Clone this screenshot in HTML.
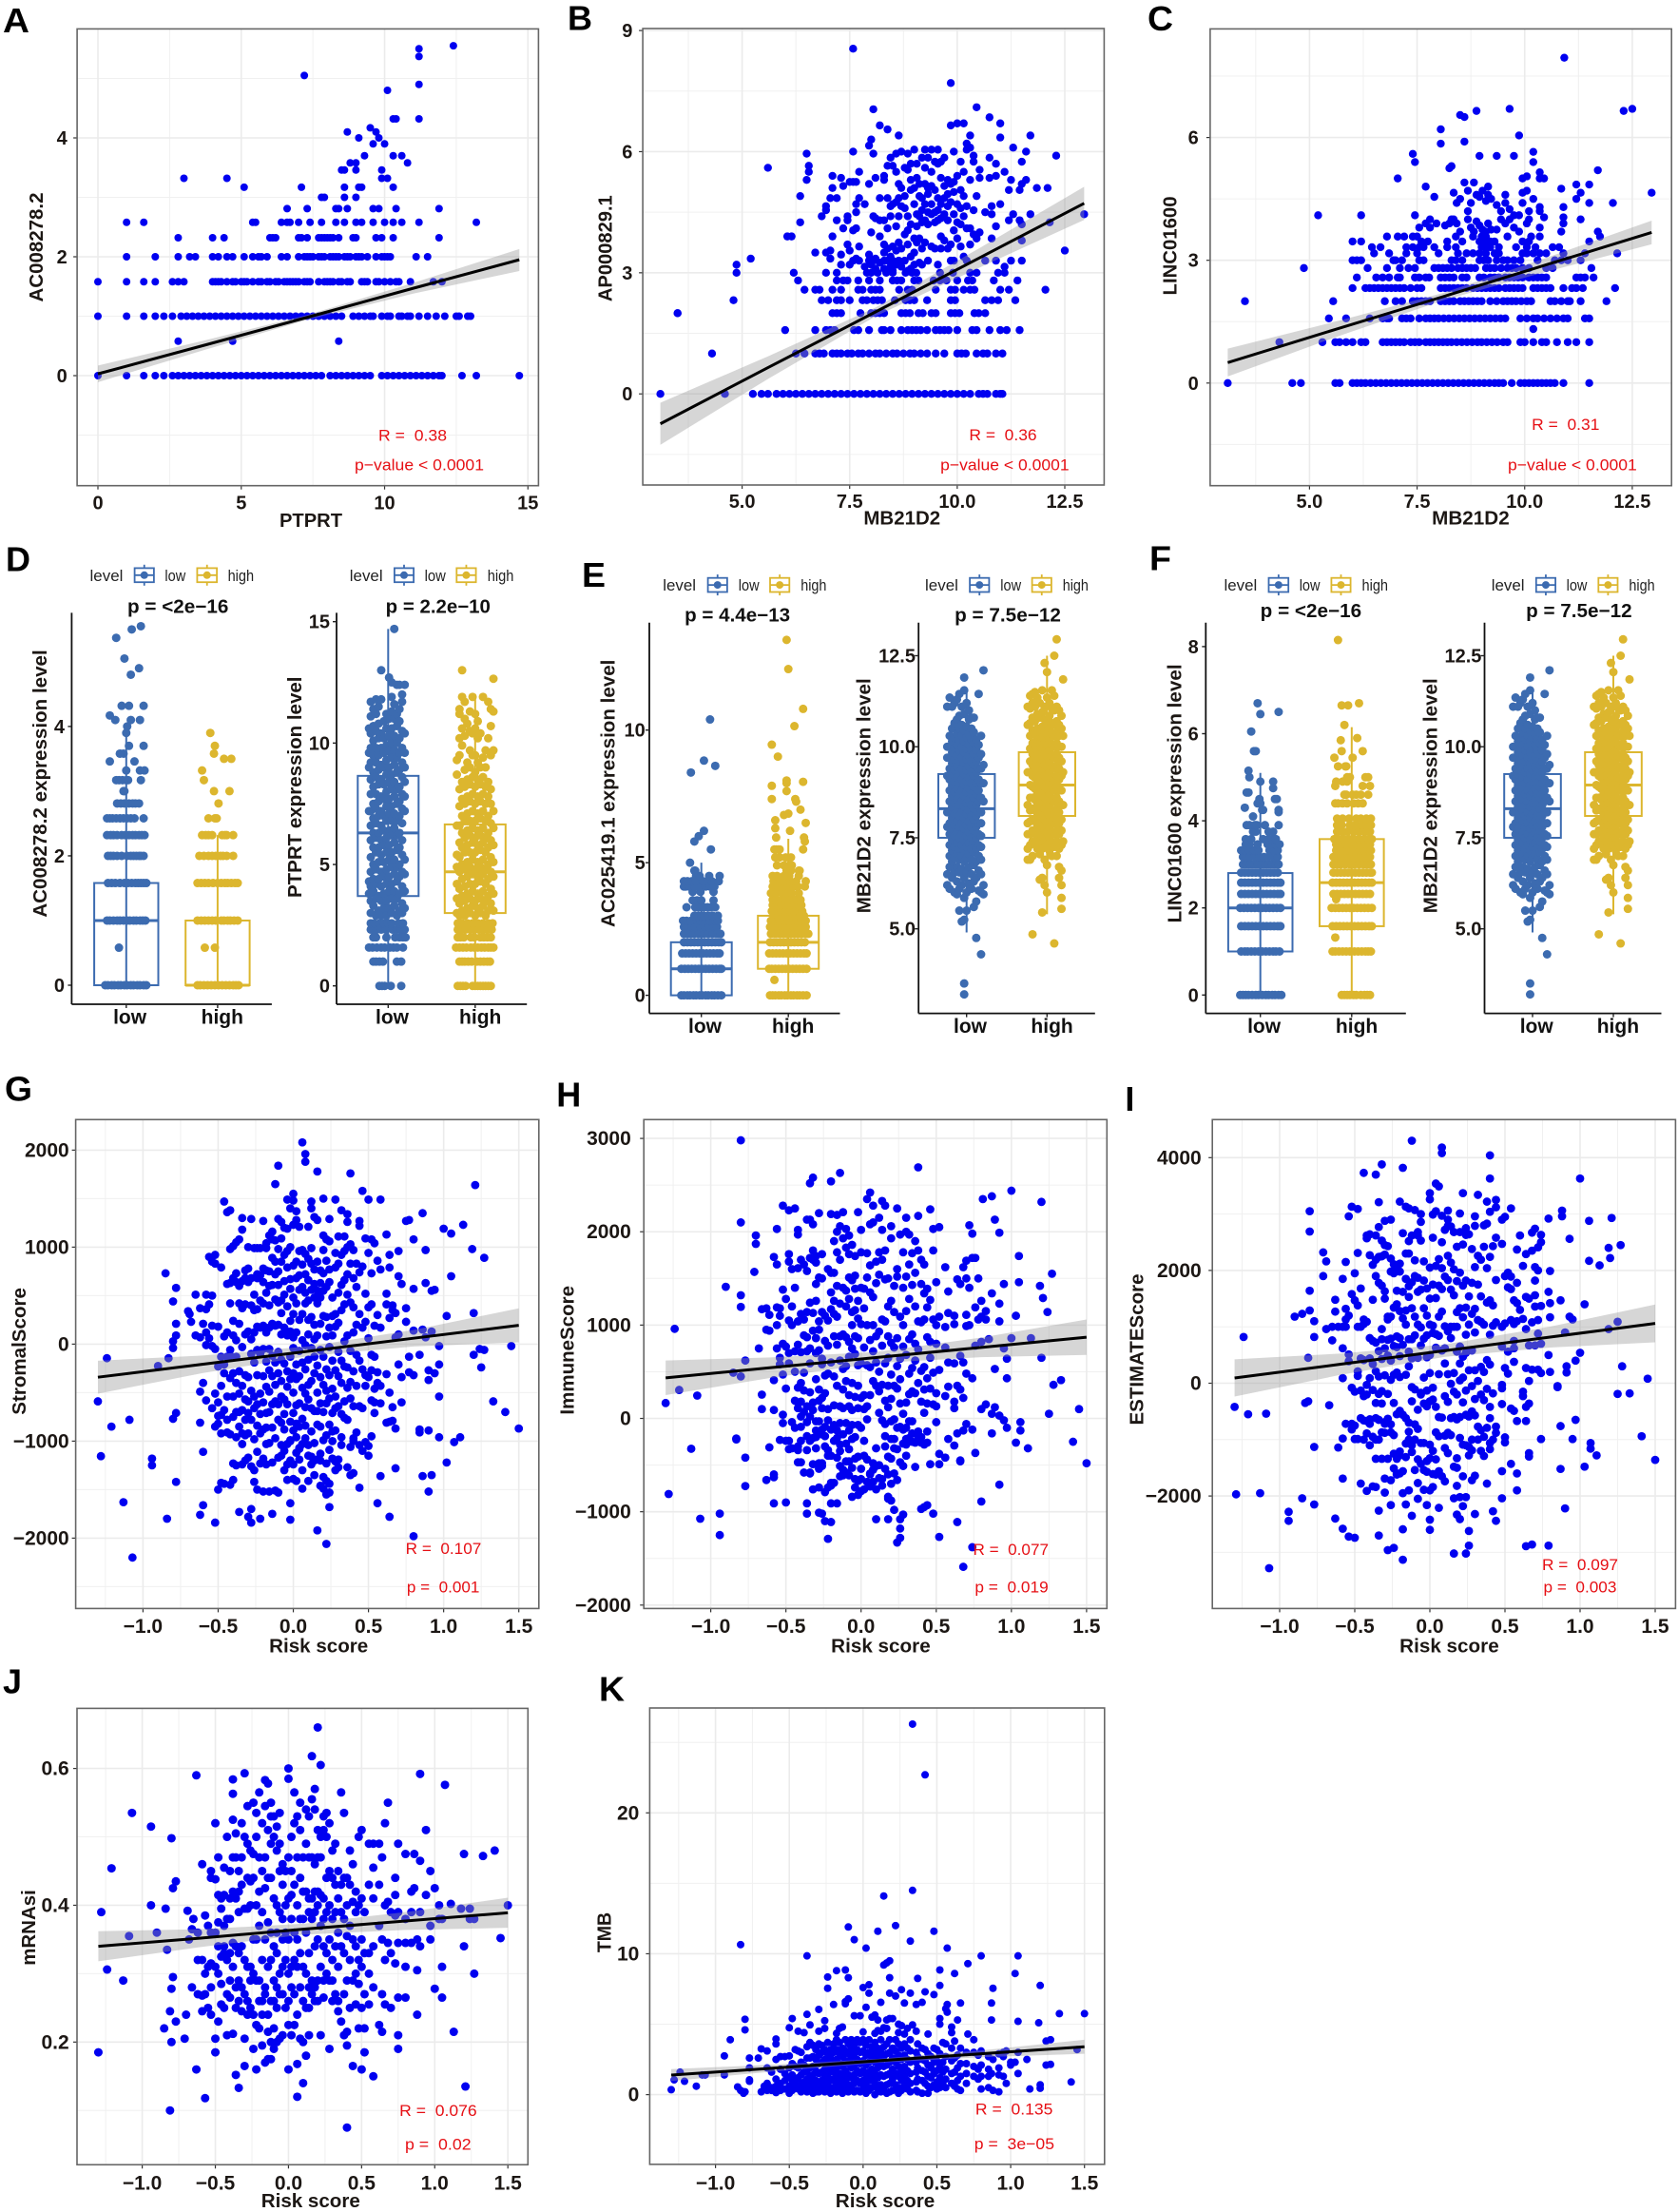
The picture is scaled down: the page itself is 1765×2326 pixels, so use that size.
<!DOCTYPE html>
<html lang="en">
<head>
<meta charset="utf-8">
<title>Correlation and expression panels A-K</title>
<style>
html,body{margin:0;padding:0;background:#fff}
svg{display:block}
text{font-family:"Liberation Sans",sans-serif}
.ltr{font-size:36px;font-weight:bold;fill:#000}
.at{font-size:20px;font-weight:bold;fill:#1c1714}
.ttl{font-size:20px;font-weight:bold;fill:#111}
.cat{font-size:21px;font-weight:bold;fill:#111;text-anchor:middle}
.rt{font-size:17px;fill:#e60f14}
.lg{font-size:17px;fill:#222}
</style>
</head>
<body>
<svg xmlns="http://www.w3.org/2000/svg" width="1765" height="2326" viewBox="0 0 1765 2326">
<rect width="1765" height="2326" fill="#fff"/>

<g>
<g id="a-marks"></g>
<text class="ltr" x="3" y="34" textLength="28" lengthAdjust="spacingAndGlyphs">A</text>
<text class="at" x="294" y="554" textLength="66" lengthAdjust="spacingAndGlyphs">PTPRT</text>
<text class="at" transform="translate(45 260) rotate(-90)" text-anchor="middle" textLength="115" lengthAdjust="spacingAndGlyphs">AC008278.2</text>
<text class="rt" x="398" y="463.5" textLength="72" lengthAdjust="spacingAndGlyphs" xml:space="preserve">R =  0.38</text>
<text class="rt" x="373" y="494.6" textLength="136" lengthAdjust="spacingAndGlyphs">p−value &lt; 0.0001</text>
</g>

<g>
<g id="b-marks"></g>
<text class="ltr" x="597" y="31.4" textLength="26" lengthAdjust="spacingAndGlyphs">B</text>
<text class="at" x="908.4" y="551.7" textLength="80.7" lengthAdjust="spacingAndGlyphs">MB21D2</text>
<text class="at" transform="translate(643.6 261.2) rotate(-90)" text-anchor="middle" textLength="111.8" lengthAdjust="spacingAndGlyphs">AP000829.1</text>
<text class="rt" x="1019.4" y="462.8" textLength="71.2" lengthAdjust="spacingAndGlyphs" xml:space="preserve">R =  0.36</text>
<text class="rt" x="989.2" y="494.6" textLength="135.4" lengthAdjust="spacingAndGlyphs">p−value &lt; 0.0001</text>
</g>

<g>
<g id="c-marks"></g>
<text class="ltr" x="1207" y="32" textLength="27" lengthAdjust="spacingAndGlyphs">C</text>
<text class="at" x="1506.2" y="551.7" textLength="81.5" lengthAdjust="spacingAndGlyphs">MB21D2</text>
<text class="at" transform="translate(1237.7 258.5) rotate(-90)" text-anchor="middle" textLength="104" lengthAdjust="spacingAndGlyphs">LINC01600</text>
<text class="rt" x="1611.2" y="452" textLength="71.2" lengthAdjust="spacingAndGlyphs" xml:space="preserve">R =  0.31</text>
<text class="rt" x="1586" y="494.6" textLength="135.8" lengthAdjust="spacingAndGlyphs">p−value &lt; 0.0001</text>
</g>

<g>
<text class="ltr" x="6" y="600.6" textLength="26" lengthAdjust="spacingAndGlyphs">D</text>
<g id="d1-marks"></g>
<text class="ttl" x="134" y="644.4" textLength="106.4" lengthAdjust="spacingAndGlyphs">p = &lt;2e−16</text>
<text class="at" transform="translate(49 824) rotate(-90)" text-anchor="middle" textLength="281.4" lengthAdjust="spacingAndGlyphs">AC008278.2 expression level</text>
<text class="cat" x="136.6" y="1076.6">low</text>
<text class="cat" x="233.8" y="1076.6">high</text>
<text class="lg" x="94.5" y="611" textLength="34.9" lengthAdjust="spacingAndGlyphs">level</text>
<text class="lg" x="173.4" y="611" textLength="21.8" lengthAdjust="spacingAndGlyphs">low</text>
<text class="lg" x="239.6" y="611" textLength="27.5" lengthAdjust="spacingAndGlyphs">high</text>
<g id="d2-marks"></g>
<text class="ttl" x="405.7" y="644.4" textLength="110.2" lengthAdjust="spacingAndGlyphs">p = 2.2e−10</text>
<text class="at" transform="translate(316.9 827.8) rotate(-90)" text-anchor="middle" textLength="232.5" lengthAdjust="spacingAndGlyphs">PTPRT expression level</text>
<text class="cat" x="412.5" y="1076.6">low</text>
<text class="cat" x="505.2" y="1076.6">high</text>
<text class="lg" x="367.8" y="611" textLength="34.8" lengthAdjust="spacingAndGlyphs">level</text>
<text class="lg" x="446.6" y="611" textLength="22.2" lengthAdjust="spacingAndGlyphs">low</text>
<text class="lg" x="512.8" y="611" textLength="27.6" lengthAdjust="spacingAndGlyphs">high</text>
</g>

<g>
<text class="ltr" x="612" y="616.8" textLength="25" lengthAdjust="spacingAndGlyphs">E</text>
<g id="e1-marks"></g>
<text class="ttl" x="720.1" y="653.7" textLength="111" lengthAdjust="spacingAndGlyphs">p = 4.4e−13</text>
<text class="at" transform="translate(646.6 834.3) rotate(-90)" text-anchor="middle" textLength="281.4" lengthAdjust="spacingAndGlyphs">AC025419.1 expression level</text>
<text class="cat" x="741.5" y="1086">low</text>
<text class="cat" x="834.2" y="1086">high</text>
<text class="lg" x="697.2" y="621" textLength="34.8" lengthAdjust="spacingAndGlyphs">level</text>
<text class="lg" x="776.8" y="621" textLength="21.8" lengthAdjust="spacingAndGlyphs">low</text>
<text class="lg" x="842.2" y="621" textLength="27.2" lengthAdjust="spacingAndGlyphs">high</text>
<g id="e2-marks"></g>
<text class="ttl" x="1004.1" y="653.7" textLength="111.8" lengthAdjust="spacingAndGlyphs">p = 7.5e−12</text>
<text class="at" transform="translate(915.3 836.8) rotate(-90)" text-anchor="middle" textLength="247" lengthAdjust="spacingAndGlyphs">MB21D2 expression level</text>
<text class="cat" x="1020.5" y="1086">low</text>
<text class="cat" x="1106.6" y="1086">high</text>
<text class="lg" x="973" y="621" textLength="34.9" lengthAdjust="spacingAndGlyphs">level</text>
<text class="lg" x="1052.3" y="621" textLength="21.8" lengthAdjust="spacingAndGlyphs">low</text>
<text class="lg" x="1117.7" y="621" textLength="27.2" lengthAdjust="spacingAndGlyphs">high</text>
</g>

<g>
<text class="ltr" x="1209" y="599.6" textLength="23" lengthAdjust="spacingAndGlyphs">F</text>
<g id="f1-marks"></g>
<text class="ttl" x="1325.7" y="648.9" textLength="106.4" lengthAdjust="spacingAndGlyphs">p = &lt;2e−16</text>
<text class="at" transform="translate(1242.7 834.4) rotate(-90)" text-anchor="middle" textLength="272" lengthAdjust="spacingAndGlyphs">LINC01600 expression level</text>
<text class="cat" x="1329.6" y="1086">low</text>
<text class="cat" x="1427.1" y="1086">high</text>
<text class="lg" x="1287.5" y="621" textLength="34.8" lengthAdjust="spacingAndGlyphs">level</text>
<text class="lg" x="1366.7" y="621" textLength="21.8" lengthAdjust="spacingAndGlyphs">low</text>
<text class="lg" x="1432.5" y="621" textLength="27.5" lengthAdjust="spacingAndGlyphs">high</text>
<g id="f2-marks"></g>
<text class="ttl" x="1605.1" y="648.9" textLength="111.5" lengthAdjust="spacingAndGlyphs">p = 7.5e−12</text>
<text class="at" transform="translate(1511.3 836.8) rotate(-90)" text-anchor="middle" textLength="247" lengthAdjust="spacingAndGlyphs">MB21D2 expression level</text>
<text class="cat" x="1616.2" y="1086">low</text>
<text class="cat" x="1701.9" y="1086">high</text>
<text class="lg" x="1568.7" y="621" textLength="34.9" lengthAdjust="spacingAndGlyphs">level</text>
<text class="lg" x="1647.6" y="621" textLength="21.8" lengthAdjust="spacingAndGlyphs">low</text>
<text class="lg" x="1713.4" y="621" textLength="27.2" lengthAdjust="spacingAndGlyphs">high</text>
</g>

<g>
<g id="g-marks"></g>
<text class="ltr" x="5" y="1157.6" textLength="29" lengthAdjust="spacingAndGlyphs">G</text>
<text class="at" x="283.2" y="1737.6" textLength="104" lengthAdjust="spacingAndGlyphs">Risk score</text>
<text class="at" transform="translate(26.8 1420.9) rotate(-90)" text-anchor="middle" textLength="133.7" lengthAdjust="spacingAndGlyphs">StromalScore</text>
<text class="rt" x="426.7" y="1634" textLength="79.6" lengthAdjust="spacingAndGlyphs" xml:space="preserve">R =  0.107</text>
<text class="rt" x="427.9" y="1674.3" textLength="76.5" lengthAdjust="spacingAndGlyphs" xml:space="preserve">p =  0.001</text>
</g>

<g>
<g id="h-marks"></g>
<text class="ltr" x="585.3" y="1163.5" textLength="26" lengthAdjust="spacingAndGlyphs">H</text>
<text class="at" x="874.2" y="1737.6" textLength="104.5" lengthAdjust="spacingAndGlyphs">Risk score</text>
<text class="at" transform="translate(603.7 1419.8) rotate(-90)" text-anchor="middle" textLength="135.6" lengthAdjust="spacingAndGlyphs">ImmuneScore</text>
<text class="rt" x="1023.5" y="1635.2" textLength="79.5" lengthAdjust="spacingAndGlyphs" xml:space="preserve">R =  0.077</text>
<text class="rt" x="1025.4" y="1674.3" textLength="77.3" lengthAdjust="spacingAndGlyphs" xml:space="preserve">p =  0.019</text>
</g>

<g>
<g id="i-marks"></g>
<text class="ltr" x="1183.4" y="1168">I</text>
<text class="at" x="1472.2" y="1737.6" textLength="104.5" lengthAdjust="spacingAndGlyphs">Risk score</text>
<text class="at" transform="translate(1202.5 1419) rotate(-90)" text-anchor="middle" textLength="159" lengthAdjust="spacingAndGlyphs">ESTIMATEScore</text>
<text class="rt" x="1622" y="1651" textLength="80" lengthAdjust="spacingAndGlyphs" xml:space="preserve">R =  0.097</text>
<text class="rt" x="1623.5" y="1674.7" textLength="76.9" lengthAdjust="spacingAndGlyphs" xml:space="preserve">p =  0.003</text>
</g>

<g>
<g id="j-marks"></g>
<text class="ltr" x="3" y="1780.4" textLength="20" lengthAdjust="spacingAndGlyphs">J</text>
<text class="at" x="274.8" y="2321" textLength="104" lengthAdjust="spacingAndGlyphs">Risk score</text>
<text class="at" transform="translate(37 2027) rotate(-90)" text-anchor="middle" textLength="79.6" lengthAdjust="spacingAndGlyphs">mRNAsi</text>
<text class="rt" x="420.2" y="2225" textLength="81.5" lengthAdjust="spacingAndGlyphs" xml:space="preserve">R =  0.076</text>
<text class="rt" x="426" y="2260.6" textLength="69.6" lengthAdjust="spacingAndGlyphs" xml:space="preserve">p =  0.02</text>
</g>

<g>
<g id="k-marks"></g>
<text class="ltr" x="630" y="1788.6" textLength="27" lengthAdjust="spacingAndGlyphs">K</text>
<text class="at" x="878.8" y="2321" textLength="104.5" lengthAdjust="spacingAndGlyphs">Risk score</text>
<text class="at" transform="translate(642.4 2032) rotate(-90)" text-anchor="middle" textLength="42.3" lengthAdjust="spacingAndGlyphs">TMB</text>
<text class="rt" x="1025.9" y="2223.6" textLength="81.5" lengthAdjust="spacingAndGlyphs" xml:space="preserve">R =  0.135</text>
<text class="rt" x="1024.8" y="2260.2" textLength="84.2" lengthAdjust="spacingAndGlyphs" xml:space="preserve">p =  3e−05</text>
</g>
</svg>

<script>
// Shared tick labels and values
const riskTicks=[-1,-.5,0,.5,1,1.5];
const riskLabels=['−1.0','−0.5','0.0','0.5','1.0','1.5'];
const mbTicks=[5,7.5,10,12.5];
const mbLabels=['5.0','7.5','10.0','12.5'];
const aXTicks=[0,5,10,15];
const aXLabels=['0','5','10','15'];
const aYTicks=[0,2,4];
const aYLabels=['0','2','4'];
const bYTicks=[0,3,6,9];
const bYLabels=['0','3','6','9'];
const cYTicks=[0,3,6];
const cYLabels=['0','3','6'];
const gYTicks=[-2000,-1000,0,1000,2000];
const gYLabels=['−2000','−1000','0','1000','2000'];
const hYTicks=[-2000,-1000,0,1000,2000,3000];
const hYLabels=['−2000','−1000','0','1000','2000','3000'];
const iYTicks=[-2000,0,2000,4000];
const iYLabels=['−2000','0','2000','4000'];
const jYTicks=[.2,.4,.6];
const jYLabels=['0.2','0.4','0.6'];
const kYTicks=[0,10,20];
const kYLabels=['0','10','20'];
const d1YTicks=[0,2,4];
const d1YLabels=['0','2','4'];
const d2YTicks=[0,5,10,15];
const d2YLabels=['0','5','10','15'];
const e1YTicks=[0,5,10];
const e1YLabels=['0','5','10'];
const mbYTicks=[5,7.5,10,12.5];
const mbYLabels=['5.0','7.5','10.0','12.5'];
const f1YTicks=[0,2,4,6,8];
const f1YLabels=['0','2','4','6','8'];

// Fit lines and confidence bands
const aFitX=[0,3.7,7.3,11,14.7];
const aFitY=[.03,.51,.98,1.47,1.95];
const aCiLow=[-.11,.43,.94,1.38,1.76];
const aCiHigh=[.17,.59,1.02,1.56,2.13];
const mbFitX=[3.1,5.6,8.1,10.5,12.95];
const bFitY=[-.74,.65,2.03,3.36,4.72];
const bCiLow=[-1.26,.37,1.92,3.12,4.31];
const bCiHigh=[-.22,.93,2.14,3.6,5.13];
const cFitY=[.5,1.31,2.11,2.89,3.68];
const cCiLow=[.16,1.12,2.02,2.72,3.39];
const cCiHigh=[.84,1.5,2.2,3.06,3.97];
const riskFitX=[-1.3,-.6,.1,.8,1.5];
const gFitY=[-341,-207,-73,61,194];
const gCiLow=[-511,-297,-123,-24,19];
const gCiHigh=[-171,-117,-23,146,369];
const hFitY=[435,544,652,761,870];
const hCiLow=[250,434,592,656,680];
const hCiHigh=[620,654,712,866,1060];
const iFitY=[93,335,577,818,1060];
const iCiLow=[-237,145,467,633,725];
const iCiHigh=[423,525,687,1003,1395];
const jFitY=[.34,.352,.365,.377,.389];
const jCiLow=[.318,.339,.357,.364,.367];
const jCiHigh=[.362,.365,.373,.39,.411];
const kFitY=[1.39,1.89,2.4,2.9,3.4];
const kCiLow=[.97,1.65,2.26,2.66,2.9];
const kCiHigh=[1.81,2.13,2.54,3.14,3.9];

// Panel A: rows are [y, x, x, ...]
const aRows=[
[0,0,1,1.6,2,2.3,2.6,2.8,3,3.2,3.4,3.6,3.8,4,4.2,4.4,4.6,4.8,5,5.2,5.4,5.6,5.8,6,6.2,6.4,6.6,6.8,7,7.2,7.4,7.6,7.8,8.1,8.3,8.5,8.7,8.9,9.1,9.3,9.5,9.9,10.1,10.3,10.5,10.7,10.9,11.1,11.3,11.5,11.7,11.9,12,12.7,13.2,14.7],
[.58,2.8,4.7,8.4],
[1,0,1,1.6,2,2.3,2.6,2.9,3.1,3.3,3.5,3.7,3.9,4.1,4.3,4.5,4.7,4.9,5.1,5.3,5.5,5.7,5.9,6.1,6.3,6.5,6.7,6.9,7.1,7.3,7.5,7.7,7.9,8.1,8.3,8.5,8.9,9.1,9.3,9.5,9.6,9.9,10.1,10.2,10.5,10.6,10.8,10.9,11.2,11.5,11.8,12.1,12.5,12.6,12.9,13],
[1.58,0,1,1.6,2,2.6,2.8,3,4,4.1,4.2,4.3,4.5,4.7,4.8,5,5.1,5.2,5.4,5.6,5.7,5.9,6,6.2,6.3,6.5,6.6,6.7,6.8,6.9,7,7.2,7.3,7.4,7.7,7.9,8,8.1,8.2,8.4,8.5,8.7,8.8,9.2,9.3,9.4,9.7,9.8,10,10.2,10.4,10.5,10.9,11.7,12],
[2,1,2,2.8,3.2,3.4,4,4.2,4.5,4.7,5.1,5.4,5.6,5.7,5.9,6.4,6.6,7,7.2,7.3,7.4,7.5,7.7,7.8,7.9,8.1,8.2,8.3,8.4,8.6,8.7,8.8,9,9.1,9.2,9.4,9.7,9.9,10,10.1,10.2,11.1,11.5],
[2.32,2.8,4,4.4,6,6.1,6.2,7,7.1,7.3,7.7,7.8,7.9,8,8.1,8.2,8.4,8.9,9,9.7,9.9,10.3,11.9],
[2.58,1,1.6,5.4,5.5,6.4,6.6,6.7,7,7.4,7.8,8.3,8.6,9,9.2,9.6,10,10.3,10.6,11.2,13.2],
[2.81,6.6,7.3,8.3,8.4,8.7,9.6,9.8,10.4,11.9],
[3,7.8,7.9,8.6,9],
[3.17,5.1,7.1,8.6,9.1,9.2,10.3],
[3.32,3,4.5,9.9,10.1],
[3.46,8.5,8.6,9,9.9],
[3.58,8.8,9,10.8],
[3.7,9.3,10.3,10.6],
[3.9,9.6,10],
[4,9.1,9.8],
[4.1,8.7,9.7],
[4.17,9.5],
[4.32,10.3,10.4,11.2],
[4.8,10.1],
[4.9,11.2],
[5.05,7.2],
[5.37,11.2],
[5.5,11.2],
[5.55,12.4]
];

// Panel B: lower discrete rows, then columns [x, y, y, ...]
const bRows=[
[0,3.1,4.6,5.25,5.45,5.6,5.8,5.95,6.1,6.25,6.4,6.55,6.7,6.85,7,7.15,7.3,7.45,7.6,7.75,7.9,8.05,8.2,8.35,8.5,8.65,8.8,8.95,9.1,9.25,9.4,9.55,9.7,9.85,10,10.15,10.3,10.5,10.6,10.7,10.9,11,11.05],
[1,4.3,6.25,6.45,6.7,6.8,6.9,7.1,7.2,7.3,7.45,7.55,7.7,7.8,7.95,8.1,8.2,8.35,8.5,8.6,8.75,8.9,9,9.15,9.3,9.5,9.7,10,10.1,10.2,10.45,10.6,10.7,10.9,11.05],
[1.58,6,6.7,6.95,7.05,7.15,7.6,7.7,7.95,8.25,8.3,8.45,8.7,8.85,8.95,9.05,9.15,9.3,9.5,9.6,9.7,9.8,10,10.35,10.45,10.75,11,11.15,11.45],
[2,3.5,7.1,7.2,7.3,7.75,8,8.1,8.2,8.3,8.7,8.8,8.9,9.1,9.2,9.4,9.5,9.85,9.95,10.05,10.4,10.5,10.65],
[2.32,4.8,6.85,7,7.2,7.3,7.5,7.8,7.9,8.05,8.15,8.25,8.55,8.8,8.9,9,9.3,9.85,9.95,10.65,10.8,10.95,11.35],
[2.58,6.45,6.7,6.8,7.1,7.3,7.7,7.8,8,8.1,8.2,8.65,8.85,8.95,9.5,9.85,9.95,10.15,10.3,10.4,11,11.2,12.05],
[2.81,6.3,7.2,7.35,7.45,7.7,7.95,8.2,8.5,8.6,8.7,9,9.1,9.45,9.6,9.75,10,10.25,10.35,10.85,11.4],
[3,4.87,6.2,6.95,7.2,7.9,8,8.15,8.35,8.5,8.8,8.95,9.05,9.6,9.9,10.3,10.45,10.95,11.1]
];
const bCols=[
[3.5,2],[4.87,3.2],[5.2,3.35],[5.6,5.6],[6.05,3.9],[6.15,3.9],[6.35,4.25,4.9],[6.5,5.95,5.3],[6.55,5.65,5.5],[6.7,3.5],[6.85,4.4],[6.95,4.65,4.55,3.5],[7.05,4.85,3.55,3.35],[7.1,5.1,5.4,3.9],[7.2,4.85,4.3],[7.3,5.35,3.45,3.2],[7.35,4.1,5.15],[7.45,4.4,4.3,3.7],[7.5,5.25,3.55,3.2],[7.58,8.55,6,5.25,4.05,3.3],[7.65,5.25,4.7,4.5,4.1,3.35],[7.72,5.5,4.85,3.65,3.3],[7.85,4.7,3.15],[7.95,6.15,5.2,3.45,3.3],[8,6.3,4,3.2],[8.05,7.05,5.95,4.4,3.3],[8.1,5.35,4.35,3.35,3.1],[8.2,6.65,4.85,4.3,3.9,3.25],[8.3,5.3,5.4,4.3,3.7,3.5,3.3,3.1],[8.38,6.55,5.65,4.85,4.1,3.6,3.3],[8.45,4.65,4.4,3.4,3.15,5.85],[8.5,5.65,4.7,3.65,3.3,3.05],[8.58,5.95,5.5,4.75,4.15,3.55,3.2],[8.64,6.4,5.2,4.85,4.4,3.75,3.3],[8.7,6,5.1,4.65,3.6,3.15],[8.78,5.6,4.9,4.6,3.95,3.3],[8.85,5.95,5.55,4.4,4.05,3.7,3.05],[8.92,5.7,5.3,5.05,4.2,3.4,3.1],[9,6.05,5.1,4.7,3.85,3.5,3.2],[9.06,5.7,5.35,4.45,4.15,3.75],[9.12,5.2,4.9,4.4,3.85,3.25],[9.18,5.85,4.85,4.55,4.25,3.6,3.2],[9.25,6.05,5.6,5.2,4.7,4.3,3.75],[9.32,5.85,5.1,4.95,4.5,4.2,3.3],[9.4,6.05,5.5,5.15,4.7,4.45,3.65],[9.48,5.75,5.05,4.5,4.25,3.6],[9.55,6.05,5.7,4.85,4.55,4.3,3.2],[9.62,5.75,5.35,4.7,4.35,3.9,3.6],[9.7,5.85,5.15,4.85,4.45,3.8],[9.78,5.3,4.95,4.65,4.3,3.6],[9.85,7.7,6.65,5.2,4.75,3.7,3.3],[9.92,6,5.25,5,4.45,4.05,3.3],[10,6.7,5.4,4.7,4.25,3.85],[10.08,5.75,5.05,4.6,4.2,3.65],[10.15,6.7,5.5,4.9,4.4,3.4],[10.22,6.05,6.2,4.65,4.1,3.3],[10.3,6.4,6.1,5.3,4.1,3.7],[10.38,5.75,5.9,4.55,3.95],[10.45,7.1,4.9,3.85],[10.52,5.55,5.35,4],[10.65,4.5,3.3],[10.75,6.85,5.85,5.35],[10.8,4.65,4.45,3.85],[10.9,5.7,5.4,4.15,3.3],[11,6.7,6.35,4.7],[11.1,5.5,3.15],[11.2,5.05,4.3],[11.25,5.3,3.3],[11.3,6.1,4.45],[11.45,5.05,4.3],[11.5,5.75,5.2,4.2,3.8,3.3],[11.6,6,5.3],[11.7,6.4,4.45],[11.85,5.1],[12.1,5.1],[12.15,4.25],[12.3,5.9],[12.5,3.55],[12.95,4.45]
];

// Panel C
const cRows=[
[0,3.1,4.6,4.8,5.6,5.7,6,6.1,6.2,6.3,6.42,6.54,6.66,6.78,6.9,7.02,7.14,7.26,7.38,7.5,7.62,7.74,7.86,7.98,8.1,8.22,8.34,8.46,8.58,8.7,8.82,8.94,9.06,9.18,9.3,9.4,9.5,9.7,9.9,10,10.1,10.2,10.3,10.4,10.5,10.6,10.7,10.9,11.5],
[1,4.3,5.3,5.6,5.7,5.85,6,6.2,6.3,6.7,6.8,6.9,7,7.1,7.2,7.35,7.45,7.55,7.7,7.8,7.9,8,8.1,8.2,8.3,8.42,8.54,8.66,8.78,8.9,9,9.12,9.24,9.36,9.5,9.6,9.9,10,10.2,10.4,10.5,10.75,11,11.2,11.5],
[1.32,10.2],
[1.58,5.45,5.85,6.4,6.7,6.8,6.85,7.15,7.25,7.35,7.55,7.7,7.8,7.9,8,8.12,8.24,8.36,8.48,8.6,8.72,8.84,8.96,9.08,9.2,9.32,9.44,9.55,9.9,10.05,10.2,10.3,10.45,10.6,10.75,10.9,11,11.4,11.5],
[2,3.5,5.55,6.75,7,7.15,7.4,7.5,7.6,7.7,7.8,8.05,8.15,8.25,8.35,8.5,8.6,8.7,8.8,8.9,9,9.2,9.35,9.5,9.6,9.7,9.8,9.92,10.05,10.15,10.6,10.7,10.85,11,11.05,11.3,11.9],
[2.32,6,6.3,6.4,6.5,6.6,6.7,6.8,6.9,7,7.1,7.2,7.35,7.5,7.6,8.05,8.15,8.25,8.35,8.45,8.55,8.65,8.8,8.9,9,9.1,9.2,9.3,9.4,9.55,9.65,9.75,9.85,9.95,10.2,10.3,10.4,10.5,10.6,10.9,11.1,11.2,11.35,12.1],
[2.58,6.1,6.55,6.7,6.85,7.05,7.1,7.45,7.55,7.7,7.78,8.05,8.15,8.25,8.35,8.55,8.65,8.95,9.05,9.2,9.3,9.4,9.55,9.65,9.75,9.85,9.95,10.1,10.2,10.3,10.4,10.5,11.2,11.3,11.4,11.6],
[2.81,4.87,6.35,6.8,7.1,7.3,7.45,7.9,8,8.1,8.2,8.3,8.45,8.55,8.65,8.75,8.85,9.1,9.2,9.3,9.45,9.6,9.7,9.8,9.95,10.1,10.5,10.65,11.55],
[3,6,6.1,6.2,6.95,7,7.15,7.55,7.65,8.3,8.4,8.55,8.95,9.05,9.15,9.35,9.5,9.6,9.75,9.9,10.3,10.7,10.85,11,11.3],
[3.17,6.5,6.85,7.25,7.5,8,8.45,8.65,8.8,8.95,9.1,9.3,9.4,9.95,10.05,10.2,10.35,10.5,10.9,11.4,12.15],
[3.32,6.45,6.65,7.25,7.4,7.55,7.65,7.9,8.2,8.4,9,9.1,9.2,9.4,9.8,10.05,10.25,10.65,10.8],
[3.46,6,6.2,7.6,7.75,8.2,8.55,8.95,9.05,9.2,9.3,9.95,10.1,11.5],
[3.58,6.8,7.05,7.2,7.4,7.5,8.4,8.8,9,9.1,9.6,10.15,10.35,11.75]
];
const cCols=[
[5.2,4.1],[6.2,4.1],[7.05,5],[7.4,5.6],[7.45,5.4],[7.45,4.1],[7.55,3.8],[7.7,3.9,4.8],[7.8,3.8,4],[7.9,4.55],[7.95,3.9],[8.05,5.85,6.2],[8.15,3.85],[8.25,5.25,3.9],[8.3,5.3,4],[8.35,4.65,4],[8.42,4.4,3.9],[8.5,6.55,4.5,3.7],[8.6,6.5,5.9],[8.6,4.9],[8.68,4.2,4.7,4],[8.75,4.4,3.8],[8.82,4.9,3.7],[8.88,6.65,4.6,3.95],[8.95,5.55,4.55,3.85],[9.02,4.7,3.75],[9.1,4.45,3.7],[9.15,4.6,4.8,3.9],[9.22,4.5,3.75],[9.35,5.55,4.35,3.75],[9.45,4,4.2],[9.55,4.6,4.4,3.9],[9.65,6.7,4.25,4],[9.75,5.55,3.8,4.1],[9.87,6.05,4.1,3.7],[9.95,5,4.4,4.65],[10.05,5.05,4.7,3.9],[10.1,4,4.2],[10.2,5.65,5.4,4.5],[10.35,5.15,5,4.3,4.2,3.8],[10.45,5,4.05],[10.85,4.75,3.7],[10.9,4.3,4.05,3.9],[10.92,7.95],[11.2,4.85,4.5],[11.3,4.65,4.0],[11.5,4.85,4.4],[11.7,5.2,3.7],[12.05,4.4],[12.3,6.65],[12.5,6.7],[12.95,4.65]
];

// Panel G: columns [x, y, y, ...]
const gCols=[
[-1.3,-590],[-1.28,-1155],[-1.24,-145],[-1.21,-850],[-1.13,-1630],[-1.09,-780],[-1.07,-2200],[-.94,-1180,-1250],[-.9,-225],[-.85,730],[-.84,-1800],[-.83,-145],[-.8,30,440,-770,-40],[-.78,580,90,-710,-1420,210],[-.7,340],[-.69,310],[-.68,230],[-.65,510,90],[-.62,370,70,-490,-810,-1760],[-.6,-1110,-1660,210,-400],[-.58,360,510,-10,-580,120],[-.56,410,60,900],[-.54,850,-20,190,500,-660],[-.52,920,-850,-510,-1840,830,-50],[-.5,-820,180,-230,-740,-600,-1500],[-.48,790,-130,-430,-920,-730,-1430],[-.46,1470,-680,-210,80,-1440,-300],[-.44,620,-540,-780,120,-910,1360,-130],[-.42,1380,980,-120,420,-930,-1450,-60,-350,630],[-.4,1010,-300,-750,-1400,240,-540,90,-1230,680],[-.38,1050,730,-400,-700,-960,-130,-1250,40,640],[-.36,1080,600,-850,-1730,-510,210,-280,-700,420],[-.34,1300,1180,-680,-1030,-1240,370,-30,-920,650,-430],[-.32,680,-940,-1200,100,-320,-570,410,-780,760],[-.3,1000,780,-710,-590,-1780,130,-340,640,-920,-1170],[-.28,-1700,-1840,400,-100,-780,-480,1290,-1260,50,680],[-.26,990,350,-540,-980,-1300,-1420,-190,120,-660,510],[-.24,990,720,-840,-1110,-1500,-320,360,-60,-620,680,180],[-.22,710,-720,-1230,-1800,-510,-100,170,990,-920,450],[-.2,640,-600,-880,-1180,-1520,-330,190,1270,-50,420,780],[-.18,990,760,-1030,-1240,-440,-710,120,-180,-860,530,1040],[-.16,1120,750,-700,-490,-1520,170,-50,-1020,400,600,-270],[-.14,1080,890,-620,-860,-1220,-1750,-330,210,-120,610,1160],[-.12,1650,850,-590,-1510,-970,-420,190,-190,460,720,1070],[-.1,1840,1290,980,750,610,200,-80,-780,-1530,-1170,-300,-620,430],[-.08,1090,850,450,320,100,-160,-380,-810,-540,-1040,-1150,1260],[-.06,1200,920,510,170,-200,-570,-720,-1300,-1100,-880,650],[-.04,1490,1190,960,790,390,90,-280,-440,-620,-1240,-1030,-1400,120],[-.02,1400,1000,570,670,130,-130,-360,-800,-1200,-990,-1640,-1810,-1000,240],[0,1550,1480,810,480,310,70,-40,-500,-710,-1240,-1390,-890,-300,1230],[.02,1370,1280,850,680,420,120,-210,-630,-960,-1120,-1410,-820,-360],[.04,1210,960,710,560,250,-70,-330,-610,-1080,-1190,-1070,-850],[.06,2080,970,820,590,310,40,-190,-450,-770,-1030,-1300,-1490],[.08,1960,1880,930,720,530,420,-10,-260,-510,-650,-970,-840],[.1,1210,880,660,450,250,100,-160,-420,-570,-1040,-1150,-1410],[.12,1470,1400,990,830,560,280,-40,-380,-660,-900,-1240,-1160],[.14,1310,770,620,480,-130,-300,-690,-1020,-1350,-1200,200,50],[.16,1280,1780,850,550,420,90,-220,-500,-690,-830,-1920,-1190],[.18,760,480,630,210,-60,-340,-610,-850,-1130,-1460,-1200],[.2,1500,1120,970,730,550,290,-130,-420,-700,-990,-1370,-1490],[.22,1080,860,590,280,80,-260,-480,-610,-940,-1230,-1410,-1550,-2060],[.24,1290,1060,770,640,170,-30,-320,-560,-830,-1090,-1440,-1530,-1680],[.26,480,290,90,-170,-460,-710,-900,-1180,-1000],[.28,1490,790,940,310,180,-270,-540,-660,-890,-1210,-1300],[.3,1110,830,530,220,-80,-330,-640,-1270,-1190],[.32,1380,920,610,350,-170,-400,-720,-1040,-960],[.34,1110,960,660,410,30,-230,-590,-760],[.36,1340,1260,1000,720,510,90,-240,-450,-780,-1270],[.38,1760,1030,830,430,-70,-390,-560,-1060,-1350],[.4,970,680,380,120,-280,-640,-970,-1330,-1000],[.42,830,590,200,-110,-430,-910],[.44,1270,1220,740,310,-170,-640,-1480,-1040],[.46,1580,800,170,-260,-660,-1100],[.48,1090,520,230,-320,-430,-1010],[.5,1490,940,380,60,-340,-1150,-1050],[.52,1080,730,410,-110,-270,-950,-580],[.54,1040,190,-130,-460,-710,-600],[.56,860,300,-290,-400,-1640],[.58,1490,770,170,-430,-610,-1360],[.62,1130,520,410,-310,-810],[.64,920,790,270,-500,-1780,-800],[.66,-650,-790,350,400],[.68,320,70,-870,-1280],[.7,960,700,-210,100],[.72,-600,620,-340],[.75,1270,230,370],[.77,1280,-130,-290],[.8,1080,570,140,-320,-1980],[.84,-110,-910,-880],[.86,1350,-1360,150],[.88,970,630,70],[.9,-370,-1520,-890,-270],[.92,550,130,-1350],[.94,560,-300],[.97,-20,-210,-540,-960],[1,1190],[1.02,290,-1220],[1.05,700,1140],[1.07,-1010],[1.11,-960],[1.13,1230],[1.19,980],[1.2,320,-110],[1.21,1640],[1.24,-50],[1.25,-240],[1.27,890,-60],[1.33,-590],[1.41,-700],[1.45,-20],[1.5,-870]
];

// Panel H
const hCols=[
[-1.3,165],[-1.28,-810],[-1.24,960],[-1.21,305],[-1.13,-325],[-1.09,245],[-1.07,-1075],[-.94,-1020,-1250],[-.9,1410],[-.85,490],[-.83,-225,-215],[-.8,2980,2100,1320,1195,450],[-.77,620,-420,-725],[-.71,1570],[-.7,1960,1870],[-.68,750],[-.66,100,255,1170],[-.63,950,-660,1180],[-.61,1110,-310,940],[-.58,1730,-600,-630,-910,90,410],[-.56,2030,1650,750,1190,1000],[-.54,1100,1180,-230,650,580],[-.52,2280,1380,470,40,-50,800],[-.5,-900,1280,320,770,-240],[-.48,2230,1760,1680,700,1050,-240,590,-330],[-.46,1600,-40,1000,1200,-320],[-.44,2250,1400,190,720,500,-100],[-.42,1970,2020,1610,1040,790,330,170,110,-300,-340,-470],[-.4,1700,1120,710,380,180,-90,-240,-470,20],[-.38,1650,1060,890,-580,490,300,70],[-.36,2130,1580,1140,870,720,-40,-340,-910,-1020,-190,130],[-.34,2520,2130,1720,1240,750,590,280,20,-240,-580,-590],[-.32,2580,2080,1800,1700,1130,940,-490,-760,-210,90,170],[-.3,1740,1670,1440,1260,860,700,420,-30,-130,-320,-200],[-.28,2200,1510,1040,950,730,310,190,-30,-540,-1010,-740,-480],[-.26,1760,1140,1500,640,220,110,-170,-480,-510,-1020,-120,580],[-.24,1100,830,460,270,-90,-300,-190,-1100,-790],[-.22,1600,1050,780,480,100,-20,-340,-400,-1290,-740],[-.2,2540,2190,1560,1350,1170,600,-400,-120,-720,-690,-910,-1110],[-.18,1900,1560,1260,1120,880,450,140,-70,-240,-690],[-.16,2180,2000,1780,1420,1090,790,350,-210,-420,-910,-130],[-.14,2630,2060,1700,1230,880,620,130,-50,-350,-510,-620,-280],[-.12,2210,1930,1400,900,530,310,110,-170,-610,-550],[-.1,2030,1830,1200,1370,870,560,400,-50,-270,-580,-460],[-.08,1960,1760,1510,1280,820,660,250,130,-330,-460,-130,-610],[-.06,1860,1480,1140,1000,750,380,90,-70,-220,-530,-840],[-.04,1740,1530,1390,1160,880,690,230,-200,-430,-740,-650],[-.02,2210,1260,1070,860,570,350,110,-70,-410,-670,-820],[0,2020,1780,1400,1010,590,220,-100,-540,-780,-650],[.02,1390,1180,760,250,100,-240,-400,-760],[.04,2350,1770,1510,1000,570,130,-10,-440,-680],[.06,2420,2080,1640,1350,840,550,250,-590,-730,-600],[.08,2280,2100,1300,1000,720,400,-480,-680,-550],[.1,1680,1450,880,600,350,-320,-510,-1080,-760],[.12,2150,1780,1540,930,500,290,60,-640,-500],[.14,2330,2020,1700,1060,780,360,-20,-720,-650],[.16,2280,1800,1490,1040,590,190,-60,-540,-300,-190],[.18,1500,1200,880,650,350,120,-410,-600,-860,-840,-1080],[.2,2060,1930,1260,810,470,210,-30,-220,-430,-700,-880],[.22,1420,1140,760,350,-10,-220,-320,-590,-980],[.24,2250,1600,1520,860,560,320,-100,-330,-660,-1330],[.26,1970,1090,640,420,160,-90,-470,-1280,-1180,-1080],[.28,1780,1400,1000,770,50,-120,-270,-510,-1030],[.3,2150,2000,1520,1150,680,170,-100,-220,-280,-400],[.32,1970,1650,1280,850,480,260,-30,-210],[.34,1770,1430,900,540,290,-30,-160,-250],[.36,1900,1560,1200,800,620,-260,-520,270],[.38,2690,2170,1800,1040,740,380,-140,-200],[.4,1700,1440,1030,510,180,-200,-260,-970],[.42,1650,1340,1060,550,310,60,-950,-280],[.44,1390,1190,870,430,160,-260,-140,-930],[.46,1270,820,650,320,-490,2240],[.48,2030,1800,1060,490,150,-1020],[.5,1460,1000,800,270,130,-40],[.52,2050,1090,520,-490,-1270,-380],[.56,1620,980,760,240,-420],[.58,1360,1130,600,340,-220],[.62,1100,1010,590,110,-290,180],[.64,1490,350,-160,-1110],[.66,1440,670,310,-460,-450],[.68,1620,600,220,-130,-1590],[.7,1690,1500,1110,990,480,-60],[.72,2070,1400,1000],[.74,1980,1720,430,-120,-1380],[.76,1720,1190,780,-370],[.78,1500,1060],[.8,1260,1090,820,100,-890],[.81,2350],[.83,1060,1150,150],[.85,850],[.87,1340,50,-160,2380],[.89,2130,530,120],[.92,1230,1040,30,-710],[.92,1990],[.95,1440,750,-20],[.97,640,430,-100],[1,2440,860],[1.03,1100,-260],[1.05,1740,1460],[1.06,-130,-40],[1.11,-320],[1.13,860],[1.19,1420],[1.2,2320,650],[1.21,1290],[1.24,1140],[1.25,50],[1.27,1550],[1.28,360],[1.33,410],[1.41,-250],[1.45,100],[1.5,-480]
];

// Panel I
const iCols=[
[-1.3,-420],[-1.29,-1970],[-1.24,820],[-1.21,-550],[-1.13,-1950],[-1.09,-540],[-1.07,-3280],[-.94,-2280,-2440],[-.9,1180],[-.85,1230,-2040],[-.83,-350],[-.81,450,-320],[-.8,1640,1290,2690,3050],[-.77,1100,820,-1130,-2150],[-.71,2320,1900],[-.69,2160,960],[-.67,-390],[-.65,760,1000],[-.63,1270,1480,-2400],[-.61,-1140,1000],[-.58,1850,1000,620,-1690,-2580,90,-980],[-.56,2150,1130,1320,1000,-720],[-.54,2960,1200,510,390,-2720],[-.52,3130,1580,-720,-820,-80],[-.5,1950,1470,-990,-750,-2740,-150],[-.48,3090,1380,1000,210,130,-990,2310],[-.46,1680,440,-130,-620,-1780,1000],[-.44,3730,1130,1050,410,-230,-660,-1000],[-.42,2570,2620,1090,-30,-200,-670,-890,-1910],[-.4,2640,800,440,90,-720,-640,-1100,2270],[-.38,1480,2100,-120,340,-950,-1830,750],[-.36,3700,2620,2190,1900,720,210,-350,-620,-1000,-1340,-1840],[-.34,3210,2770,2240,1780,570,120,-190,-650,-1000,-2700,-2260],[-.32,2250,3880,2530,1730,960,780,430,-360,-140,-870,-1340],[-.3,2880,2450,2280,1630,1500,620,140,-690,-720,-1690,-1940,-880],[-.28,2430,1130,1180,770,490,-190,-1340,-630,-2960],[-.26,2900,2210,1980,1180,790,400,60,-730,-2160,-1720,-870],[-.24,2110,1950,1340,660,150,-350,-1510,-1250,-920,-2920],[-.22,2040,1640,1400,830,640,190,-550,-1600,-1620,-1340],[-.2,3220,2120,1980,1280,800,480,110,-490,-1600,-1210,-1280],[-.18,3820,2660,1620,1150,680,-560,-1950,-2590,-3130,-1560],[-.16,3130,2300,1850,1290,1040,150,-620,-1310,-1070,-2150],[-.14,3100,2520,2300,1720,1530,780,560,300,-700,-860,-1000,-1900],[-.12,4300,2620,1790,1330,780,440,-70,-320,-1220,-1100,-2350],[-.1,3070,2180,1900,1180,850,-110,-730,-1000,-1540],[-.08,2620,2680,1870,1620,1040,450,-470,-810,-1350,-2050,-1770],[-.06,2860,3000,2530,1660,990,670,-200,-170,-1060,-1430],[-.04,2160,1820,1330,790,100,-360,-1060,-1540,-1890],[-.02,1680,1200,850,460,-130,-410,-1380,-1570,-2160],[0,3370,3260,2050,1500,1040,500,180,-320,-1090,-1330,-1900,-2420,-2600],[.02,2990,2580,1750,1020,890,-80,-290,-1200,-1610,-1840],[.04,3050,3540,2080,1510,870,630,-420,-870,-1350,-1620],[.06,3490,2200,1730,1180,840,160,-600,-940,-1560,-2210],[.08,2970,2500,4180,4080,2040,1670,1270,580,-610,-1650],[.1,2720,1890,1010,620,350,-230,-1150,-1740,-930],[.12,3060,2900,2790,2260,1830,920,160,-330,-1240,-880],[.14,2780,2140,1660,1000,800,-10,-620,-920],[.16,2680,2020,1560,1000,180,-150,-600,-1480,-2040,-3020],[.18,2420,1810,1260,1000,560,-200,-640,-1330,-1500,-1820,-2330],[.2,3010,2680,1960,1330,650,350,50,-600,-970,-2020,-2410],[.22,3370,2460,1730,1170,470,100,-340,-1090,-1650,-2180],[.24,2630,2750,1820,1340,860,540,-130,-560,-1100,-2020,-3020],[.26,2640,1540,1040,230,-590,-1130,-1280,-2620,-2880],[.28,2380,1780,1230,580,-50,-500,-1000,-1720,-1190],[.3,2960,2790,2060,1320,900,230,-280,-570,-1640,-2320],[.32,3340,2260,1750,1120,40,-770,-1000],[.34,2190,1540,1090,290,-200,-830,-1200],[.36,2420,2800,1040,200,-300,-950,-1290],[.38,3220,2830,2040,1430,410,-100,-790,-1780],[.4,4040,3630,3040,2240,1470,860,330,-420,-620,-1060,-1170],[.42,2430,1380,1020,-180,-1000,-2270],[.44,3250,3120,2580,1830,1080,-770,-880,-2440],[.48,2900,2470,1000,650,-90,-30,-370,-1560,-2040],[.5,2950,1900,1060,270,-960,-1050],[.52,1960,1700,560,170],[.54,3100,1890,1670,1120,-450,-1430],[.56,1470,1050,750,620,380,-490],[.58,1420,1100,1780,2370,-1600,-1900,-670],[.6,2620,1300],[.62,2080,1140,-230,-150],[.64,1530,2290,960,270,-420,-670,-2890],[.66,1500,670,40,-360,-1240,-1300],[.68,2670,2350,1080,240,-2860],[.7,2740,2060,1820,1560,1360,670],[.72,2410,2000,1120,880,240],[.74,2630,2500,1370,700,180,-990],[.79,2920,1620,500,-2880],[.8,1990,1170,1420,200],[.85,-50,-70],[.87,1470,-760,-1520],[.88,2960,3060],[.9,900,-2220],[.91,300,190],[.93,2560,1180],[.95,1130,-990],[.97,400,-650],[1,3630,540],[1.03,1400,-1480],[1.06,2880,2170],[1.07,-1060,-1160],[1.11,-1280],[1.13,2090],[1.19,2400,960],[1.2,2220],[1.21,2930],[1.25,-190,1090],[1.27,2450],[1.28,300],[1.33,-180],[1.41,-940],[1.45,80],[1.5,-1360]
];

// Panel J
const jCols=[
[-1.3,.185],[-1.28,.39],[-1.24,.306],[-1.21,.454],[-1.13,.29],[-1.09,.355],[-1.07,.535],[-.94,.4,.515],[-.9,.36],[-.85,.22],[-.84,.395],[-.83,.335],[-.81,.245,.1],[-.8,.498,.278,.2],[-.79,.425,.295],[-.77,.435,.23],[-.71,.205],[-.7,.24],[-.69,.392],[-.68,.35],[-.66,.28,.365],[-.65,.38],[-.63,.59,.16],[-.62,.32,.27,.36],[-.59,.46,.268,.32,.245],[-.57,.385,.3,.27,.118],[-.55,.37,.31,.25],[-.53,.36,.44,.45,.24,.315,.28],[-.5,.52,.438,.36,.31,.185,.205],[-.48,.47,.415,.375,.3,.23,.34],[-.46,.41,.325,.285,.255,.395],[-.44,.455,.415,.37,.34,.25,.33],[-.42,.5,.38,.32,.27,.21],[-.4,.45,.41,.38,.33,.265,.29],[-.38,.584,.563,.525,.47,.42,.345,.31,.212],[-.36,.505,.47,.41,.34,.28,.25,.152],[-.34,.45,.42,.39,.33,.29,.26,.133],[-.32,.52,.47,.43,.34,.28,.245],[-.3,.593,.5,.395,.32,.27,.205,.165],[-.28,.545,.49,.44,.395,.31,.26,.24],[-.26,.48,.435,.4,.31,.29,.25],[-.24,.55,.475,.44,.35,.3,.24,.19],[-.22,.535,.5,.4,.35,.29,.225,.16],[-.2,.565,.47,.42,.37,.29,.26,.22],[-.18,.52,.45,.39,.32,.26,.24,.195],[-.16,.583,.545,.47,.425,.35,.28,.27,.17],[-.14,.578,.51,.44,.375,.31,.24,.215,.175],[-.12,.55,.53,.49,.44,.36,.32,.26,.2,.175],[-.1,.53,.5,.41,.34,.29,.26,.22,.19],[-.08,.515,.48,.4,.36,.33,.28,.25,.2],[-.06,.535,.49,.45,.39,.3,.27,.205],[-.04,.46,.43,.38,.35,.31,.27,.21],[-.02,.45,.4,.36,.32,.25],[0,.6,.585,.47,.41,.35,.3,.26,.225,.16],[.02,.5,.45,.415,.38,.31,.28,.21],[.04,.565,.52,.43,.36,.32,.27,.225],[.06,.53,.47,.4,.35,.31,.24,.168,.12],[.08,.55,.51,.44,.38,.33,.28,.205],[.1,.47,.42,.38,.31,.26,.2,.14],[.12,.54,.49,.42,.36,.3,.25,.18],[.14,.53,.47,.41,.39,.33,.28,.25,.21],[.16,.618,.555,.47,.41,.38,.29,.27],[.18,.57,.54,.46,.42,.39,.34,.28,.26],[.2,.66,.51,.47,.42,.4,.35,.29,.26],[.22,.605,.5,.47,.415,.37,.31,.21],[.24,.53,.51,.41,.38,.34,.29,.265],[.26,.535,.5,.44,.39,.33,.3],[.28,.52,.45,.4,.35,.29,.19],[.3,.48,.44,.38,.32,.29,.26],[.32,.49,.43,.39,.34,.27],[.34,.45,.41,.36,.31,.26,.245],[.36,.565,.43,.39,.34,.23],[.38,.535,.44,.38,.33,.27,.21],[.4,.44,.4,.355,.29,.215,.195,.075],[.42,.48,.43,.37,.32,.25],[.44,.46,.405,.35,.29,.165],[.46,.42,.39,.34,.3,.255],[.48,.5,.4,.32,.285,.22],[.5,.51,.41,.35,.31,.25,.16],[.52,.39,.33,.27,.22,.185],[.55,.43,.49,.33,.3,.255],[.58,.49,.455,.41,.34,.28,.15],[.62,.49,.43,.37,.225],[.64,.47,.35,.27,.215],[.66,.52,.4,.32,.255],[.68,.55,.405,.345],[.7,.39,.33,.25],[.73,.44,.415,.385,.315],[.75,.49,.39,.345,.265,.19,.21],[.8,.475,.38,.345,.31,.265],[.84,.42,.39,.345],[.86,.475,.425],[.88,.35,.305,.24],[.9,.592,.465,.34,.39],[.94,.51,.415],[.97,.45,.35,.37],[1,.278,.425],[1.03,.4,.38],[1.05,.38,.31,.265],[1.07,.576],[1.11,.402],[1.13,.215],[1.18,.395],[1.2,.475,.34],[1.21,.135],[1.24,.395,.38],[1.27,.3,.38],[1.33,.472],[1.41,.48],[1.45,.352],[1.5,.4]
];

// Panel K
const kCols=[
[-1.3,.35],[-1.28,1.05],[-1.24,1.6],[-1.21,.95],[-1.13,.6],[-1.09,1.4],[-1.07,1.4],[-.94,2.75,1.4],[-.9,3.9],[-.85,.55],[-.83,.3,10.65],[-.81,.2,.1],[-.8,5.35,4.6,.2],[-.77,2.6,1.9,1.05,.95],[-.71,2.6],[-.69,3.25,.2],[-.67,.35,.6],[-.65,3.1,.8,.4,1.9,.3],[-.62,1.6,.5,.3],[-.59,3.95,3.6,2.5,1.1,.6,.15],[-.56,2.7,1.8,.8,.3],[-.53,2.7,1.5,1,.4],[-.5,4.75,2.75,1.9,1.2,.6,.1],[-.48,5.4,2.2,1.4,.8,.3],[-.46,3.2,2,1.1,.5,.7],[-.44,4.5,3.1,1.9,1.2,.4],[-.42,3,2.3,1.4,.8,.2],[-.4,4.4,2.1,1.6,.9,.4],[-.38,9.85,5.7,3.4,2.6,1.7,1.1,.6,.2],[-.36,4.95,3.7,2.6,1.9,1.3,.8,.3],[-.34,3.5,2.7,2,1.4,.9,.4,.1],[-.32,3.2,2.5,1.7,1,.5,.2],[-.3,6.05,4.5,3.6,2.8,2.2,1.5,.7,.2],[-.28,3.5,3,2.3,1.6,1,.4],[-.26,5.25,4.7,3.2,2.5,1.8,1.2,.6,.2],[-.24,8.35,7.55,3.7,2.9,2.2,1.5,.8,.3],[-.22,3.2,2.6,1.9,1.1,.5,.1],[-.2,6.4,3.6,3,2.3,1.6,1,.4],[-.18,8.8,4.35,3.9,3.2,2.5,1.9,1.3,.7,.2],[-.16,4.7,3.7,2.9,2.2,1.5,.9,.4],[-.14,4.8,3.3,2.7,2,1.3,.6,.1],[-.12,8.85,6.45,6.6,3.9,3.1,2.4,1.7,1,.4],[-.1,11.9,8.3,6.8,3.6,2.9,2.2,1.4,.7,.2],[-.08,3.9,3.3,2.6,1.9,1.2,.5],[-.06,11,5.6,3.6,2.9,2.1,1.4,.8,.2],[-.04,3.9,3.2,2.5,1.7,1,.3],[-.02,5.6,3.7,3,2.2,1.5,.8,.2],[0,7.6,4.45,3.9,3.1,2.4,1.7,1,.4],[.02,10.4,6.2,3.5,2.8,2.1,1.4,.7,.1],[.04,7.8,7.2,3.9,3,2.3,1.6,1,.3],[.06,5.5,3.4,2.6,1.8,1.2,.5],[.08,5.65,4.35,3.7,3,2.3,1.5,.8,0],[.1,11.6,5.3,4.55,3.3,2.6,1.9,1.2,.4],[.12,6.55,4.5,3.9,3,2.2,1.4,.7,.2],[.14,14.1,9.2,4.75,3.4,2.7,2,1.3,.5],[.16,9.35,5.3,4.7,3.6,2.9,2.1,1.4,.7,.1],[.18,9.5,8.3,7.2,5.4,3.9,3,2.3,1.5,.8,.2],[.2,5.4,3.3,2.6,1.8,1.1,.3],[.22,12,7,3.9,3.1,2.3,1.5,.7],[.24,5,4.4,3.6,2.8,2,1.3,.5,.1],[.26,7.45,4.9,3.3,2.5,1.7,1,.3],[.28,6.5,4.3,3.6,2.8,2,1.3,.6],[.3,4.7,3.3,2.5,1.7,1,.4],[.32,10.9,7.2,3.9,3.1,2.3,1.5,.8,.2],[.335,26.3,14.5,4.95],[.36,6.4,4.5,3,2.3,1.6,.9,.3],[.37,8.25,3.6,2.7,1.9,1.1,.2],[.4,6.55,3.3,2.5,1.7,1,.1],[.42,22.7,7.3,3.2,2.4,1.6,.8],[.44,4.3,2.9,2.1,1.3,.6,.1],[.46,2.7,1.9,1.2,.5],[.48,11.6,7.1,3.3,2.3,1.5,.7],[.5,3.2,2.4,1.7,.9,.4],[.52,8.85,5.4,5,7.75,2.9,2,1.2,.5],[.54,3.7,2.3,1.6,.8],[.56,6.1,3.6,2.7,1.8,1.1,.5],[.57,10.4,6.4,5.85],[.6,4.8,4.4,3.3,2.4,1.5,.8],[.62,8.6,3.8,2.6,1.6,.6],[.64,5.3,2.8,1.9,1,.4],[.66,6.5,3.3,2.2,1.3,.3],[.7,3,2.2,1.5,.8],[.71,9.3,4.3],[.75,3.9,3,2,1.3],[.78,2.8,1.8,1.1],[.8,9.85,3.1,2.1,1.3,.4],[.85,2.7,1.8,1.3,.5],[.87,6.5,5.3,1.5],[.88,7.55,2.5,.3],[.92,2.9,1.9,1.4,.2],[.95,2.7,3,1.3],[.97,.8,3.1],[1,2.3,2.1],[1.03,8.6,2.3],[1.05,9.85,5.2,1.5,3],[1.11,2.5],[1.13,.4],[1.19,5.1],[1.2,7.75,.7,.45],[1.24,3.8,2.1],[1.27,2.15,3.9],[1.33,5.75],[1.41,.9],[1.45,3.2],[1.5,5.75]
];

// Boxplot summaries: [whisker low, q1, median, q3, whisker high]
const d1LowBox=[0,0,1,1.58,3.9];
const d1HighBox=[0,0,0,1,2.32];
const d2LowBox=[0,3.7,6.3,8.65,14.7];
const d2HighBox=[0,3,4.7,6.65,12];
const e1LowBox=[0,0,1,2,5];
const e1HighBox=[0,1,2,3,5.9];
const mbLowBox=[4.9,7.5,8.3,9.25,11.6];
const mbHighBox=[5.4,8.1,8.95,9.85,12.5];
const f1LowBox=[0,1,2,2.8,5.1];
const f1HighBox=[0,1.58,2.58,3.58,6.15];

// Boxplot points: rows are [y, jitter, jitter, ...]; columns are [jitter, y, y, ...]
const d1LowRows=[
[0,-.23,-.2,-.16,-.13,-.09,-.06,-.02,.01,.05,.08,.12,.15,.19,.22],
[.58,-.08],
[1,-.21,-.18,-.14,-.1,-.07,-.03,.01,.04,.08,.11,.15,.18,.21],
[1.58,-.2,-.16,-.12,-.07,-.02,.02,.06,.1,.13,.16,.19,.22],
[2,-.2,-.17,-.14,-.1,-.05,.01,.05,.08,.11,.14,.16,.19],
[2.32,-.21,-.17,-.14,-.1,-.05,-.01,.03,.07,.1,.14,.17,.2],
[2.58,-.21,-.18,-.15,-.11,-.07,-.03,.01,.05,.09,.19],
[2.81,-.1,-.06,-.02,.03,.07,.1,.14],
[3,-.02,-.03],[3.17,-.11,-.08,-.04,0,.02,.16],[3.32,0,.15,.2],[3.46,-.18,.09],[3.58,-.03,-.07],[3.7,.03,.19],[3.9,0],[4,.01],[4.1,-.12,.05,.15],[4.17,-.18],[4.32,-.05,.03,.19],[4.8,.05],[4.9,.14],[5.05,-.02],[5.37,-.11],[5.5,.06],[5.55,.16]
];
const d1HighRows=[
[0,-.22,-.19,-.15,-.11,-.07,-.03,.01,.05,.09,.13,.17,.2,.23],
[.58,-.14,-.03],
[1,-.22,-.18,-.14,-.1,-.06,-.02,.04,.07,.11,.14,.18,.22],
[1.58,-.22,-.18,-.14,-.1,-.05,0,.04,.08,.11,.15,.19,.22],
[2,-.2,-.15,-.1,-.06,-.02,.03,.06,.1,.17],
[2.32,-.17,-.13,-.1,-.06,.05,.08,.1,.17],
[2.58,-.1,-.03,-.01],[2.81,.01],[3,-.04,.13],[3.17,-.15],[3.32,-.17],[3.5,.07,.15],[3.58,-.04],[3.7,-.03],[3.9,-.08]
];
const d2LowRows=[
[0,-.1,-.07,-.04,.03,.15],
[1,-.17,-.14,-.1,-.06,.1,.15],
[1.58,-.22,-.18,-.13,-.08,-.04,.02,.06,.1,.17],
[2,-.17,-.14,-.02,.08,.13,.17,.2],
[2.32,-.2,-.17,-.13,-.08,-.03,.05,.1,.15,.19],
[2.58,-.2,-.16,-.1,-.05,0,.04,.12,.17]
];
const d2LowCols=[
[-.22,3.8,4.3,7.2,9,9.6,10.6],
[-.2,3,3.5,4.1,4.7,5.3,6,6.6,7.2,7.9,8.5,9.2,9.8,10.4,11.1,11.7],
[-.17,3.3,3.9,4.4,5,5.7,6.3,6.9,7.5,8.2,8.8,9.5,10.1,10.7,11.4],
[-.14,2.9,3.6,4.2,4.8,5.5,6.1,6.7,7.3,7.9,8.6,9.2,9.8,10.5,11.2,11.8],
[-.11,3.1,3.7,4.4,5.1,5.7,6.3,7,7.6,8.3,8.9,9.5,10.2,10.8,11.5],
[-.08,2.9,3.5,4.1,4.7,5.4,6,6.6,7.2,7.8,8.5,9.1,9.8,10.4,11.8,13],
[-.05,3.2,3.8,4.5,5.1,5.8,6.4,7,7.7,8.3,9,9.6,10.2,10.9],
[-.02,2.9,3.5,4.2,4.8,5.5,6.1,6.8,7.4,8,8.7,9.3,9.9,10.6,11.2],
[.01,3.2,3.9,4.5,5.2,5.8,6.4,7.1,7.7,8.4,9,9.7,10.3,11,12.7],
[.04,3,3.6,4.2,4.9,5.5,6.2,6.8,7.4,8.1,8.7,9.4,10,10.6,11.3,11.9,12.5],
[.07,3.3,3.9,4.6,5.2,5.9,6.5,7.1,7.8,8.4,9.1,9.7,10.3,11,11.6,14.7],
[.1,2.9,3.6,4.3,4.9,5.6,6.2,6.8,7.5,8.1,8.8,9.4,10,10.7,11.2,12.4],
[.13,3.1,3.8,4.5,5,5.7,6.3,7,7.6,8.2,8.9,9.6,10.2,10.9,11.4,12.4],
[.16,3,3.4,4.1,4.7,5.4,6,6.7,7.3,7.9,8.6,9.2,9.8,10.5,11.7,12],
[.19,3.2,3.9,4.6,5.2,7.2,7.8,8.4,9,9.6,10.4,12.4]
];
const d2HighRows=[
[0,-.2,-.17,-.14,-.11,-.03,0,.03,.06,.09,.12,.15,.18],
[1,-.18,-.15,-.12,-.08,-.04,.02,.06,.1,.14,.17],
[1.58,-.22,-.18,-.14,-.1,-.05,-.01,.03,.07,.11,.15,.18,.21],
[2,-.2,-.17,-.13,-.05,-.01,.06,.1,.14,.18],
[2.32,-.2,-.16,-.11,-.06,-.01,.04,.09,.14,.19],
[2.58,-.2,-.15,-.09,-.03,.03,.09,.15,.2]
];
const d2HighCols=[
[-.21,3,3.6,4.2,4.9,5.4,6.6,8.7,9.3],
[-.18,2.9,3.4,4,4.7,5.3,5.9,6.6,7.4,8.1,9.5,10.2,11.2,11.4],
[-.15,3.1,3.7,4.4,5,5.7,6.3,7,7.7,8.4,9.9,10.6,11.9,13],
[-.12,2.9,3.5,4.1,4.8,5.5,6.1,6.8,7.5,8.2,8.9,10.3,11,11.7],
[-.09,3.2,3.8,4.5,5.1,5.8,6.4,7.1,7.8,8.5,9.2,10.8],
[-.06,3,3.6,4.2,4.9,5.5,6.2,6.8,7.6,8.3,9,9.7,10.5,11.3],
[-.03,3.3,3.9,4.6,5.2,5.9,6.5,7.2,7.9,8.6,9.5,10.4,11.9],
[0,2.9,3.5,4.2,4.8,5.5,6.1,6.8,7.5,8.2,8.8,9.5,10.6,11.2],
[.03,3.2,3.8,4.5,5.1,5.8,6.4,7.1,7.8,8.5,9.2,10.2,10.9],
[.06,3,3.6,4.3,4.9,5.6,6.2,6.9,7.6,8.3,9,10.4],
[.09,3.3,3.9,4.6,5.2,5.9,6.5,7.2,7.9,8.6,9.4,11.9],
[.12,2.9,3.5,4.2,4.8,5.5,6.1,6.8,7.5,8.2,9,9.7],
[.15,3.1,3.7,4.4,5,5.7,6.3,7,7.8,8.4,10.2,11.7],
[.18,3.4,4,4.7,5.3,6,6.7,7.5,8.1,9.5,10.7,11.4],
[.21,3.1,3.8,4.5,5.1,5.8,6.5,7.2,9.7,11.3,12.65]
];
const e1LowRows=[
[0,-.23,-.2,-.16,-.13,-.09,-.06,-.02,.01,.05,.08,.12,.15,.19,.23],
[1,-.23,-.19,-.15,-.11,-.07,-.03,.01,.05,.09,.13,.17,.21,.23],
[1.58,-.22,-.18,-.14,-.1,-.06,-.02,.02,.06,.1,.14,.18,.21],
[2,-.2,-.16,-.12,-.08,-.04,0,.04,.08,.12,.16,.2,.23],
[2.32,-.2,-.16,-.12,-.08,-.03,.03,.08,.13,.18,.22],
[2.58,-.2,-.15,-.11,-.07,-.01,.04,.09,.14,.18],
[2.81,-.21,-.17,-.12,-.05,-.01,.05,.1,.16,.19],
[3,-.08,-.04,0,.03,.08,.13,.19],
[3.32,-.17,-.07,-.03,.03,.07,.11,.16],
[3.58,-.1,-.05,0,.14],[3.9,-.1,-.01,.14],
[4.1,-.2,-.18,-.14,-.08,-.03,.05,.1,.15],
[4.3,-.2,-.16,-.11,-.06,.02,.08,.12,.2],[4.5,-.06,-.02,.09,.21],
[4.7,-.07,-.08],[5,-.13],[5.5,.11],[5.8,-.08],[6,-.03],[6.2,.03],[8.4,-.12],[8.85,.03],[8.65,.16],[10.4,.1]
];
const e1HighRows=[
[0,-.21,-.18,-.15,-.11,-.08,-.04,-.01,.03,.06,.1,.13,.17,.21],
[.58,-.16],
[1,-.22,-.19,-.15,-.11,-.07,-.03,.01,.05,.09,.13,.17,.21],
[1.58,-.22,-.18,-.14,-.1,-.06,-.02,.02,.06,.1,.14,.18,.21],
[2,-.21,-.17,-.13,-.09,-.05,-.01,.03,.07,.11,.15,.19],
[2.32,-.2,-.15,-.1,-.06,-.02,.03,.07,.11,.15,.2,.23],
[2.58,-.21,-.17,-.12,-.07,-.03,.02,.06,.1,.15,.2],
[2.81,-.2,-.15,-.1,-.04,0,.05,.1,.15,.2],
[3,-.17,-.12,-.07,-.02,.03,.08,.13,.18],
[3.17,-.19,-.13,-.08,-.03,.02,.07,.12,.16],
[3.4,-.18,-.13,-.08,-.04,.02,.07,.12,.15],
[3.6,-.18,-.14,-.08,-.03,.03,.09,.14],
[3.85,-.2,-.14,-.07,-.02,.04,.12],[4.1,-.18,-.12,-.05,0,.06,.11,.19],[4.3,-.17,-.1,-.04,.02,.09,.2],[4.5,-.18,-.13,-.05,.01,.12],[4.7,-.02,.03,.12,.13],[4.9,-.13,-.05,.01,.04],[5.2,-.15,-.1,-.03,.03],[5.5,-.16,-.14,-.12,-.1,.17],[5.8,.19],[5.95,-.14,.18],[6.2,.02],[6.3,-.15],[6.5,.2],[6.6,-.15],[6.8,-.05],[6.85,0],[7,.14],[7.3,.09],[7.4,-.19,.08],[7.7,-.02],[7.9,-.19],[8,-.02],[8.05,.17],[8.1,-.02],[9,-.12],[9.45,-.19],[10.15,.07],[10.8,.17],[12.3,0],[13.4,-.02]
];
const mbLowCols=[
[-.24,6.2,6.5,7.8,8.2,9.2,9.7,10,11.1],
[-.21,6.1,6.7,7,7.3,7.6,7.9,8.2,8.5,8.8,9.1,9.4,9.7,10,10.3,11.35],
[-.18,6.4,6.85,7.15,7.45,7.75,8.05,8.35,8.65,8.95,9.25,9.55,9.85,10.15,10.5,11.1],
[-.15,6,6.55,6.95,7.25,7.55,7.85,8.15,8.45,8.75,9.05,9.35,9.65,9.95,10.25,10.65,11.2],
[-.12,5.95,6.3,6.7,7.05,7.35,7.65,7.95,8.25,8.55,8.85,9.15,9.45,9.75,10.05,10.35,10.75,11.3],
[-.09,5.5,6.1,6.55,6.9,7.2,7.5,7.8,8.1,8.4,8.7,9,9.3,9.6,9.9,10.2,10.5,10.85,11.45],
[-.06,5.2,6.2,6.65,7,7.3,7.6,7.9,8.2,8.5,8.8,9.1,9.4,9.7,10,10.3,10.6,11.1],
[-.03,3.2,3.5,5.25,5.85,6.4,6.85,7.15,7.45,7.75,8.05,8.35,8.65,8.95,9.25,9.55,9.85,10.15,10.45,10.9,11.55,11.9],
[0,5.5,6,6.55,6.95,7.25,7.55,7.85,8.15,8.45,8.75,9.05,9.35,9.65,9.95,10.25,10.55,11.2],
[.03,6.25,6.7,7.05,7.35,7.65,7.95,8.25,8.55,8.85,9.15,9.45,9.75,10.05,10.35,10.75,11],
[.06,6.1,6.5,6.9,7.2,7.5,7.8,8.1,8.4,8.7,9,9.3,9.6,9.9,10.2,10.5,10.8],
[.09,5.6,6.3,6.75,7.1,7.4,7.7,8,8.3,8.6,8.9,9.2,9.5,9.8,10.1,10.4,10.8],
[.12,4.75,5.75,6.4,6.85,7.2,7.5,7.8,8.1,8.4,8.7,9,9.3,9.6,9.9,10.2],
[.15,6.05,6.6,7,7.3,7.6,7.9,8.2,8.5,8.8,9.1,9.4,9.7,10.05,11.45],
[.18,4.3,6,6.5,6.9,7.25,7.55,7.9,8.2,8.6,9,9.4,9.8,10.3],
[.21,5.95,6.2,8.5,9,9.5,12.1]
];
const mbHighCols=[
[-.24,6.9,7.2,7.6,7.9,8.4,9.3,10.6,11.1],
[-.21,6.9,7.3,7.6,7.95,8.25,8.6,8.95,9.3,9.6,9.95,10.3,10.65,11.05,11.4],
[-.18,4.85,7,7.4,7.7,8,8.3,8.6,8.9,9.2,9.5,9.8,10.1,10.45,10.8,11.2,11.45],
[-.15,7.35,7.65,7.95,8.25,8.55,8.85,9.15,9.45,9.75,10.05,10.35,10.7,11.1,11.5],
[-.12,7.2,7.5,7.8,8.1,8.4,8.7,9,9.3,9.6,9.9,10.2,10.5,10.9,11.35],
[-.09,6.35,7.05,7.4,7.7,8,8.3,8.6,8.9,9.2,9.5,9.8,10.1,10.4,10.8,11.2],
[-.06,5.45,6.4,7.2,7.55,7.85,8.15,8.45,8.75,9.05,9.35,9.65,9.95,10.25,10.55,10.95,11.55],
[-.03,6.2,6.9,7.4,7.7,8,8.3,8.6,8.9,9.2,9.5,9.8,10.1,10.4,10.75,11.1,12.3],
[0,6,6.75,7.3,7.65,7.95,8.25,8.55,8.85,9.15,9.45,9.75,10.05,10.35,10.7,11.35,12.05],
[.03,7.15,7.5,7.8,8.1,8.4,8.7,9,9.3,9.6,9.9,10.2,10.5,10.85,11.2],
[.06,7,7.35,7.65,7.95,8.25,8.55,8.85,9.15,9.45,9.75,10.05,10.35,10.65,11.05,11.55],
[.09,4.6,7.25,7.6,7.9,8.2,8.5,8.8,9.1,9.4,9.7,10,10.3,10.6,11,11.4,12.5],
[.12,7,7.4,7.7,8,8.3,8.6,8.9,9.2,9.5,9.8,10.1,10.4,10.7,11.1,12.95],
[.15,6.4,6.7,7.2,7.6,7.9,8.2,8.5,8.8,9.1,9.4,9.7,10,10.3,10.6,11],
[.18,5.55,5.85,6.2,6.6,7.3,7.7,8,8.4,8.8,9.2,9.6,10,10.5,10.85],
[.2,7.4,8.4,9.3,10.3,11.85]
];
const f1LowRows=[
[0,-.22,-.19,-.16,-.13,-.09,-.05,-.02,.02,.06,.09,.13,.16,.2,.23],
[1,-.21,-.17,-.14,-.1,-.06,-.02,.02,.06,.1,.14,.17,.21],
[1.58,-.21,-.17,-.13,-.09,-.05,-.01,.03,.07,.11,.15,.19,.22],
[2,-.22,-.18,-.14,-.1,-.06,-.02,.02,.06,.1,.14,.18,.22],
[2.32,-.21,-.17,-.13,-.09,-.05,-.01,.03,.07,.11,.15,.19,.22],
[2.58,-.21,-.17,-.13,-.09,-.05,-.01,.03,.07,.11,.15,.19,.22],
[2.81,-.21,-.17,-.13,-.09,-.05,-.01,.03,.07,.11,.15,.19],
[3,-.19,-.15,-.11,-.07,-.03,.01,.05,.09,.13,.17,.2],
[3.17,-.19,-.15,-.11,-.06,-.01,.04,.09,.14,.19],
[3.32,-.21,-.17,-.12,-.07,-.02,.1,.15,.19],
[3.46,-.16,-.12,-.03,.08,.12,.17,.21],
[3.58,-.16,-.1,.03,.09,.13,.17],
[3.75,-.08,-.05,.09,.14],
[3.9,-.15,-.12,-.06,-.04,.05,.2],[4.1,-.08],[4.2,.2],[4.25,.02,.03,.2],[4.3,-.17],[4.4,-.03,0],[4.5,-.01,.16,.18],[4.65,-.15,-.13],[4.75,.14],[4.9,0,.14],[5,-.12],[5.15,-.13],[5.6,-.07,-.05],[6.05,-.1],[6.45,0],[6.5,.2],[6.7,-.03]
];
const f1HighRows=[
[0,-.11,-.08,-.05,-.02,.02,.05,.1,.14,.17,.2],
[1,-.21,-.18,-.14,-.1,-.06,-.02,.03,.07,.11,.15,.18,.21],
[1.32,-.18],
[1.58,-.21,-.17,-.13,-.09,-.05,-.01,.03,.07,.11,.15,.19,.22],
[2,-.22,-.18,-.14,-.1,-.06,-.02,.02,.06,.1,.14,.18,.22],
[2.2,-.17],
[2.32,-.2,-.16,-.12,-.08,-.04,0,.04,.08,.12,.16,.2],
[2.58,-.21,-.17,-.13,-.09,-.05,-.01,.03,.07,.11,.15,.19,.22],
[2.81,-.2,-.16,-.12,-.08,-.04,0,.04,.08,.12,.16,.2,.22],
[3,-.2,-.16,-.12,-.07,-.02,.03,.08,.13,.17,.21],
[3.17,-.2,-.15,-.1,-.05,0,.05,.1,.15,.2],
[3.32,-.17,-.13,-.07,-.02,.04,.09,.14,.19,.21],
[3.46,-.17,-.12,-.06,0,.05,.1,.16,.2],
[3.58,-.19,-.14,-.09,-.03,.03,.08,.13,.18,.22],
[3.75,-.16,-.1,-.05,.02,.08,.14,.2],[3.9,-.16,-.11,-.02,.04,.11,.16,.21],[4.05,-.16,-.1,-.03,.05,.1,.16,.21],[4.4,-.18,-.15,-.1,-.05,.02,.07,.12],[4.6,-.08,-.06,.01,.05,.1,.18],[4.8,-.18,.12,.2],[4.9,-.17,-.1,-.05],[5,-.05,-.02,.15,.18],[5.25,-.15,-.07,-.06],[5.45,-.19,.01],[5.6,-.11,.12],[5.85,-.12],[5.9,.06],[6.2,-.08],[6.65,-.11,-.04],[6.7,.08],[8.15,-.15]
];

const NS='http://www.w3.org/2000/svg';
const BLUE='#0000f0';
const LOW='#3c6bb0';
const HIGH='#dcb62e';
const INK='#1c1714';

function rowPts(list){const out=[];list.forEach(function(r){for(let i=1;i<r.length;i++){out.push([r[i],r[0]]);}});return out;}
function colPts(list){const out=[];list.forEach(function(c){for(let i=1;i<c.length;i++){out.push([c[0],c[i]]);}});return out;}
function linear(v0,p0,v1,p1){return function(v){return p0+(v-v0)*(p1-p0)/(v1-v0);};}
function make(tag,parent){const e=document.createElementNS(NS,tag);parent.appendChild(e);return e;}

function drawLine(parent,name,x1,y1,x2,y2,color,width){
  const l=make('line',parent);
  
  
  l.setAttribute('x1',x1);l.setAttribute('y1',y1);l.setAttribute('x2',x2);l.setAttribute('y2',y2);
  l.setAttribute('stroke',color);l.setAttribute('stroke-width',width);
  return l;
}
function drawDot(parent,name,cx,cy,r,color){
  const c=make('circle',parent);
  
  
  c.setAttribute('cx',cx);c.setAttribute('cy',cy);c.setAttribute('r',r);c.setAttribute('fill',color);
  return c;
}
function drawTick(parent,name,x,y,label,anchor,size){
  const t=make('text',parent);
  
  
  t.setAttribute('x',x);t.setAttribute('y',y);t.setAttribute('text-anchor',anchor);
  t.setAttribute('font-size',size);t.setAttribute('font-weight','bold');t.setAttribute('fill',INK);
  t.textContent=label;
  return t;
}

function scatterPanel(p){
  const g=document.getElementById(p.id);
  const x=linear.apply(null,p.xRef),y=linear.apply(null,p.yRef);
  const L=p.frame[0],T=p.frame[1],R=p.frame[2],B=p.frame[3];
  const xStep=p.xTicks[1]-p.xTicks[0],yStep=p.yTicks[1]-p.yTicks[0];
  for(let k=-6;k<12;k++){
    const xm=x(p.xTicks[0]+(k+.5)*xStep);
    if(xm>L&&xm<R){drawLine(g,'grid-minor-x',xm,T,xm,B,'#f0f0f0',1);}
    const ym=y(p.yTicks[0]+(k+.5)*yStep);
    if(ym>T&&ym<B){drawLine(g,'grid-minor-y',L,ym,R,ym,'#f0f0f0',1);}
  }
  p.xTicks.forEach(function(v,i){
    drawLine(g,'grid-major-x',x(v),T,x(v),B,'#ebebeb',1.6);
    drawLine(g,'x-tick-mark',x(v),B,x(v),B+4,'#333',1.2);
    drawTick(g,'x-tick-label',x(v),p.xBase,p.xLabels[i],'middle',p.size);
  });
  p.yTicks.forEach(function(v,i){
    drawLine(g,'grid-major-y',L,y(v),R,y(v),'#ebebeb',1.6);
    drawLine(g,'y-tick-mark',L-4,y(v),L,y(v),'#333',1.2);
    drawTick(g,'y-tick-label',p.yRight,y(v)+7,p.yLabels[i],'end',p.size);
  });
  p.pts.forEach(function(d){
    drawDot(g,'scatter-point',x(d[0]),y(d[1]),p.r,BLUE);
  });
  const band=make('polygon',g);
  
  
  const upper=p.fitX.map(function(v,i){return x(v)+','+y(p.ciHigh[i]);});
  const lower=p.fitX.map(function(v,i){return x(v)+','+y(p.ciLow[i]);}).reverse();
  band.setAttribute('points',upper.concat(lower).join(' '));
  band.setAttribute('fill','#999');band.setAttribute('fill-opacity','.4');
  const fit=make('polyline',g);
  
  
  fit.setAttribute('points',p.fitX.map(function(v,i){return x(v)+','+y(p.fitY[i]);}).join(' '));
  fit.setAttribute('fill','none');fit.setAttribute('stroke','#000');fit.setAttribute('stroke-width',3);
  const frame=make('rect',g);
  
  
  frame.setAttribute('x',L);frame.setAttribute('y',T);frame.setAttribute('width',R-L);frame.setAttribute('height',B-T);
  frame.setAttribute('fill','none');frame.setAttribute('stroke','#666');frame.setAttribute('stroke-width',1.6);
}

function drawBox(g,name,cx,half,stats,y,color){
  drawLine(g,name+'-whisker',cx,y(stats[0]),cx,y(stats[4]),color,2);
  const b=make('rect',g);
  
  
  b.setAttribute('x',cx-half);b.setAttribute('y',y(stats[3]));
  b.setAttribute('width',half*2);b.setAttribute('height',y(stats[1])-y(stats[3]));
  b.setAttribute('fill','none');b.setAttribute('stroke',color);b.setAttribute('stroke-width',2);
  drawLine(g,name+'-median',cx-half,y(stats[2]),cx+half,y(stats[2]),color,3);
}
function drawLegendKey(g,name,x0,x1,cy,color){
  const b=make('rect',g);
  
  
  b.setAttribute('x',x0);b.setAttribute('y',cy-7.4);b.setAttribute('width',x1-x0);b.setAttribute('height',14.8);
  b.setAttribute('fill','none');b.setAttribute('stroke',color);b.setAttribute('stroke-width',1.8);
  drawLine(g,name+'-median',x0,cy,x1,cy,color,1.8);
  drawLine(g,name+'-whisker-top',(x0+x1)/2,cy-11,(x0+x1)/2,cy-7.4,color,1.8);
  drawLine(g,name+'-whisker-bottom',(x0+x1)/2,cy+7.4,(x0+x1)/2,cy+11,color,1.8);
  drawDot(g,name+'-dot',(x0+x1)/2,cy,4,color);
}
function boxPanel(p){
  const g=document.getElementById(p.id);
  const cat=linear(1,p.cats[0],2,p.cats[1]);
  const y=linear.apply(null,p.yRef);
  drawLine(g,'y-axis-line',p.axisX,p.top,p.axisX,p.bottom,'#111',1.8);
  drawLine(g,'x-axis-line',p.axisX,p.bottom,p.axisR,p.bottom,'#111',1.8);
  p.yTicks.forEach(function(v,i){
    drawLine(g,'y-tick-mark',p.axisX-4,y(v),p.axisX,y(v),'#222',1.4);
    drawTick(g,'y-tick-label',p.yRight,y(v)+7,p.yLabels[i],'end',20);
  });
  drawLine(g,'x-tick-mark-low',cat(1),p.bottom,cat(1),p.bottom+4,'#222',1.4);
  drawLine(g,'x-tick-mark-high',cat(2),p.bottom,cat(2),p.bottom+4,'#222',1.4);
  drawBox(g,'low',cat(1),p.half,p.lowBox,y,LOW);
  drawBox(g,'high',cat(2),p.half,p.highBox,y,HIGH);
  p.lowPts.forEach(function(d){
    drawDot(g,'low-point',cat(1+d[0]),y(d[1]),4.5,LOW);
  });
  p.highPts.forEach(function(d){
    drawDot(g,'high-point',cat(2+d[0]),y(d[1]),4.5,HIGH);
  });
  drawLegendKey(g,'legend-key-low',p.keys[0],p.keys[1],p.keyY,LOW);
  drawLegendKey(g,'legend-key-high',p.keys[2],p.keys[3],p.keyY,HIGH);
}

scatterPanel({id:'a-marks',frame:[81.1,30.4,566.4,510.7],xRef:[0,103,15,555.3],yRef:[0,395,4,145],xTicks:aXTicks,xLabels:aXLabels,yTicks:aYTicks,yLabels:aYLabels,xBase:535.7,yRight:70.8,size:20,r:4,pts:rowPts(aRows),fitX:aFitX,fitY:aFitY,ciLow:aCiLow,ciHigh:aCiHigh});
scatterPanel({id:'b-marks',frame:[676.1,30,1161.4,510],xRef:[5,780.6,12.5,1120],yRef:[0,414.2,9,32.1],xTicks:mbTicks,xLabels:mbLabels,yTicks:bYTicks,yLabels:bYLabels,xBase:533.9,yRight:665.4,size:20,r:4.2,pts:rowPts(bRows).concat(colPts(bCols)),fitX:mbFitX,fitY:bFitY,ciLow:bCiLow,ciHigh:bCiHigh});
scatterPanel({id:'c-marks',frame:[1272.9,30.4,1758.2,510.7],xRef:[5,1377.4,12.5,1716.9],yRef:[0,402.8,6,144.6],xTicks:mbTicks,xLabels:mbLabels,yTicks:cYTicks,yLabels:cYLabels,xBase:533.9,yRight:1260.7,size:20,r:4.2,pts:rowPts(cRows).concat(colPts(cCols)),fitX:mbFitX,fitY:cFitY,ciLow:cCiLow,ciHigh:cCiHigh});
scatterPanel({id:'g-marks',frame:[79.6,1177.3,566.8,1691.4],xRef:[-1,150.4,1.5,545.7],yRef:[-2000,1617.4,2000,1209.4],xTicks:riskTicks,xLabels:riskLabels,yTicks:gYTicks,yLabels:gYLabels,xBase:1717,yRight:72.7,size:21,r:4.4,pts:colPts(gCols),fitX:riskFitX,fitY:gFitY,ciLow:gCiLow,ciHigh:gCiHigh});
scatterPanel({id:'h-marks',frame:[677.2,1177.3,1164.3,1691.4],xRef:[-1,747.6,1.5,1142.9],yRef:[-2000,1687.8,3000,1197.1],xTicks:riskTicks,xLabels:riskLabels,yTicks:hYTicks,yLabels:hYLabels,xBase:1717,yRight:663.8,size:21,r:4.4,pts:colPts(hCols),fitX:riskFitX,fitY:hFitY,ciLow:hCiLow,ciHigh:hCiHigh});
scatterPanel({id:'i-marks',frame:[1275.2,1177.3,1762.4,1691.4],xRef:[-1,1346,1.5,1741],yRef:[-2000,1573.1,4000,1217.3],xTicks:riskTicks,xLabels:riskLabels,yTicks:iYTicks,yLabels:iYLabels,xBase:1717,yRight:1263.7,size:21,r:4.4,pts:colPts(iCols),fitX:riskFitX,fitY:iFitY,ciLow:iCiLow,ciHigh:iCiHigh});
scatterPanel({id:'j-marks',frame:[81,1796.4,555.3,2276.3],xRef:[-1,149.6,1.5,534.2],yRef:[.2,2147.3,.6,1859.6],xTicks:riskTicks,xLabels:riskLabels,yTicks:jYTicks,yLabels:jYLabels,xBase:2302.4,yRight:72.7,size:21,r:4.5,pts:colPts(jCols),fitX:riskFitX,fitY:jFitY,ciLow:jCiLow,ciHigh:jCiHigh});
scatterPanel({id:'k-marks',frame:[683.4,1796,1161.8,2275.9],xRef:[-1,752.6,1.5,1140.7],yRef:[0,2202.6,20,1906.3],xTicks:riskTicks,xLabels:riskLabels,yTicks:kYTicks,yLabels:kYLabels,xBase:2302.4,yRight:672.3,size:21,r:4,pts:colPts(kCols),fitX:riskFitX,fitY:kFitY,ciLow:kCiLow,ciHigh:kCiHigh});

boxPanel({id:'d1-marks',axisX:75.4,axisR:285.9,top:644.4,bottom:1056,cats:[132.8,228.9],half:33.7,yRef:[0,1036,4,763.9],yTicks:d1YTicks,yLabels:d1YLabels,yRight:68,lowBox:d1LowBox,highBox:d1HighBox,lowPts:rowPts(d1LowRows),highPts:rowPts(d1HighRows),keys:[141.6,161.9,207.4,228.1],keyY:604.8});
boxPanel({id:'d2-marks',axisX:354,axisR:554.2,top:644.4,bottom:1056,cats:[408.3,499.8],half:32,yRef:[0,1036.7,15,653.7],yTicks:d2YTicks,yLabels:d2YLabels,yRight:347,lowBox:d2LowBox,highBox:d2HighBox,lowPts:rowPts(d2LowRows).concat(colPts(d2LowCols)),highPts:rowPts(d2HighRows).concat(colPts(d2HighCols)),keys:[414.9,435.1,480.3,500.6],keyY:604.8});
boxPanel({id:'e1-marks',axisX:683,axisR:883.5,top:654.7,bottom:1065.6,cats:[737.7,829.2],half:32,yRef:[0,1046.6,10,767.7],yTicks:e1YTicks,yLabels:e1YLabels,yRight:678.8,lowBox:e1LowBox,highBox:e1HighBox,lowPts:rowPts(e1LowRows),highPts:rowPts(e1HighRows),keys:[744.6,764.9,810,830.3],keyY:615.1});
boxPanel({id:'e2-marks',axisX:966.2,axisR:1151.8,top:654.7,bottom:1065.6,cats:[1016.7,1101.3],half:29.7,yRef:[5,976.7,12.5,689.5],yTicks:mbYTicks,yLabels:mbYLabels,yRight:963,lowBox:mbLowBox,highBox:mbHighBox,lowPts:colPts(mbLowCols),highPts:colPts(mbHighCols),keys:[1020.1,1040.4,1085.6,1105.9],keyY:615.1});
boxPanel({id:'f1-marks',axisX:1268.3,axisR:1478.8,top:654.7,bottom:1065.6,cats:[1325.7,1421.8],half:33.8,yRef:[0,1046.3,8,679.9],yTicks:f1YTicks,yLabels:f1YLabels,yRight:1260.7,lowBox:f1LowBox,highBox:f1HighBox,lowPts:rowPts(f1LowRows),highPts:rowPts(f1HighRows),keys:[1334.5,1355.2,1400.4,1420.6],keyY:615.1});
boxPanel({id:'f2-marks',axisX:1561.5,axisR:1747.5,top:654.7,bottom:1065.6,cats:[1612,1697],half:29.8,yRef:[5,976.7,12.5,689.5],yTicks:mbYTicks,yLabels:mbYLabels,yRight:1558.4,lowBox:mbLowBox,highBox:mbHighBox,lowPts:colPts(mbLowCols),highPts:colPts(mbHighCols),keys:[1615.8,1636.1,1681.3,1701.5],keyY:615.1});
</script>
</body>
</html>
